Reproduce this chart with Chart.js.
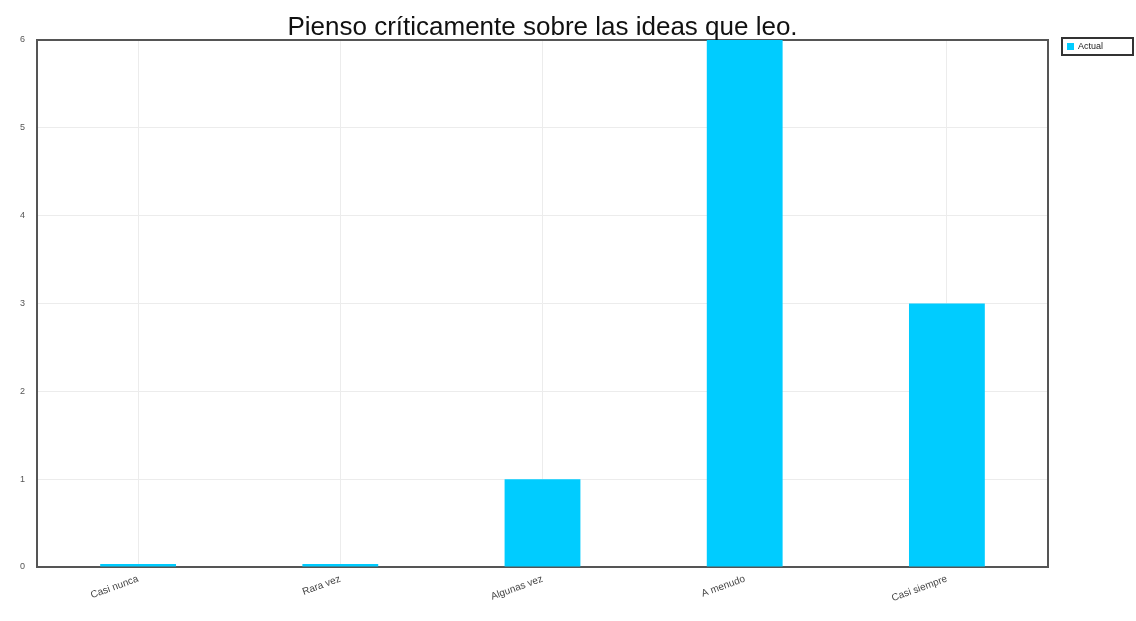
<!DOCTYPE html>
<html>
<head>
<meta charset="utf-8">
<script src="https://cdn.jsdelivr.net/npm/chart.js@4"></script>
<style>
  html, body { margin: 0; padding: 0; background: #fff; }
  #wrap { width: 1136px; height: 621px; position: relative; }
</style>
</head>
<body>
<div id="wrap"><canvas id="chart" width="1136" height="621"></canvas></div>
<script>
// chart data
const chartTitle = 'Pienso críticamente sobre las ideas que leo.';
const categories = ['Casi nunca', 'Rara vez', 'Algunas vez', 'A menudo', 'Casi siempre'];
const seriesName = 'Actual';
const actualValues = [0, 0, 1, 6, 3];
const yTicks = [0, 1, 2, 3, 4, 5, 6];

const barColor = '#00CCFF';

// box round the plot goes under the bars, title and legend on top
const framePlugin = {
    id: 'frame',
    beforeDatasetsDraw(chart) {
        const c = chart.ctx;
        const a = chart.chartArea;
        c.save();
        c.strokeStyle = '#555';
        c.lineWidth = 2;
        c.strokeRect(a.left, a.top, a.right - a.left, a.bottom - a.top);
        c.restore();
    },
    afterDraw(chart) {
        const c = chart.ctx;
        const a = chart.chartArea;
        c.save();
        c.fillStyle = '#111';
        c.font = '26px "Liberation Sans", Arial, sans-serif';
        c.textAlign = 'center';
        c.textBaseline = 'alphabetic';
        c.fillText(chartTitle, (a.left + a.right) / 2, 35);

        // legend
        c.lineWidth = 2;
        c.strokeStyle = '#333';
        c.strokeRect(1062, 38, 71, 17);
        c.fillStyle = barColor;
        c.fillRect(1067, 43, 7, 7);
        c.fillStyle = '#222';
        c.font = '9px "Liberation Sans", Arial, sans-serif';
        c.textAlign = 'left';
        c.textBaseline = 'middle';
        c.fillText(seriesName, 1078, 47);
        c.restore();
    }
};

new Chart(document.getElementById('chart'), {
    type: 'bar',
    data: {
        labels: categories,
        datasets: [{
            label: seriesName,
            data: actualValues,
            backgroundColor: barColor,
            borderWidth: 0,
            minBarLength: 3,
            categoryPercentage: 1,
            barPercentage: 0.375
        }]
    },
    options: {
        responsive: false,
        animation: false,
        layout: { padding: { top: 40, right: 88, left: 0, bottom: 0 } },
        scales: {
            x: {
                grid: { color: '#ececec', drawTicks: false, offset: false },
                border: { display: false },
                ticks: {
                    color: '#444',
                    font: { family: '"Liberation Sans", Arial, sans-serif', size: 10 },
                    minRotation: 20,
                    maxRotation: 20,
                    padding: 6
                },
                afterFit(scale) { scale.height = 54; }
            },
            y: {
                min: 0,
                max: 6,
                grid: { color: '#ececec', drawTicks: false },
                border: { display: false },
                afterBuildTicks(scale) { scale.ticks = yTicks.map(v => ({ value: v })); },
                ticks: {
                    color: '#555',
                    font: { family: '"Liberation Sans", Arial, sans-serif', size: 9 },
                    padding: 12
                },
                afterFit(scale) { scale.width = 37; }
            }
        },
        plugins: {
            legend: { display: false },
            title: { display: false },
            tooltip: { enabled: false }
        }
    },
    plugins: [framePlugin]
});
</script>
</body>
</html>
